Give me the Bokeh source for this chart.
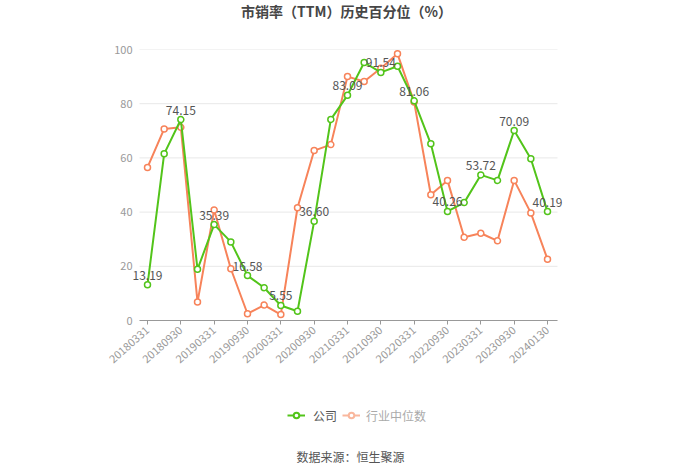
from bokeh.plotting import figure
from bokeh.layouts import column
from bokeh.models import Range1d, Legend, LegendItem, ColumnDataSource, FixedTicker, Label
from bokeh.core.properties import value
from bokeh.embed import file_html
from bokeh.resources import INLINE

dates = ["20180331", "20180630", "20180930", "20181231",
         "20190331", "20190630", "20190930", "20191231",
         "20200331", "20200630", "20200930", "20201231",
         "20210331", "20210630", "20210930", "20211231",
         "20220331", "20220630", "20220930", "20221231",
         "20230331", "20230630", "20230930", "20231231",
         "20240130"]
company = [13.19, 61.5, 74.15, 18.9, 35.39, 29.0, 16.58, 12.1, 5.55, 3.4,
           36.60, 74.2, 83.09, 95.2, 91.54, 93.8, 81.06, 65.2, 40.26, 43.5,
           53.72, 51.7, 70.09, 59.7, 40.19]
industry = [56.5, 70.7, 71.3, 6.8, 40.8, 19.1, 2.5, 5.7, 2.2, 41.6,
            62.7, 64.9, 90.0, 88.2, 93.1, 98.4, 80.6, 46.4, 51.7, 30.7,
            32.2, 29.4, 51.7, 39.7, 22.6]
label_idx = list(range(0, 25, 2))
y_ticks = [0, 20, 40, 60, 80, 100]
title_text = "市销率（TTM）历史百分位（%）"
source_text = "数据来源：恒生聚源"
series_names = ["公司", "行业中位数"]

FONT = "Noto Sans CJK SC"
GREEN = "#52c41a"
ORANGE = "#f7835a"
BL, BR = 132, 138  # side borders shared by all strips


def strip(height, y_end):
    f = figure(width=700, height=height, output_backend="svg", toolbar_location=None,
               x_range=Range1d(BL, 700 - BR), y_range=Range1d(0, y_end),
               min_border_left=BL, min_border_right=BR, min_border_top=0, min_border_bottom=0)
    f.axis.visible = False
    f.grid.visible = False
    f.outline_line_color = None
    f.background_fill_color = "white"
    f.border_fill_color = "white"
    return f


# header with title
head = strip(40, 40)
head.add_layout(Label(x=346, y=29.5, text=title_text, text_align="center", text_baseline="middle",
                      text_font=FONT, text_font_size="14px", text_font_style="bold",
                      text_color="#464646"))

# main chart
x = list(range(len(dates)))
X0, X1 = -0.48, 24.6

fig = figure(width=700, height=340, output_backend="svg", toolbar_location=None,
             x_range=Range1d(-0.9, 24.9), y_range=Range1d(0, 100),
             min_border_left=BL, min_border_right=BR, min_border_top=9,
             min_border_bottom=60)
fig.outline_line_color = None
fig.background_fill_color = "white"
fig.border_fill_color = "white"

fig.yaxis.ticker = FixedTicker(ticks=y_ticks)
fig.yaxis.axis_line_color = None
fig.yaxis.major_tick_line_color = None
fig.yaxis.major_tick_out = 0
fig.yaxis.major_tick_in = 0
fig.yaxis.minor_tick_line_color = None
fig.yaxis.major_label_text_color = "#999999"
fig.yaxis.major_label_text_font = FONT
fig.yaxis.major_label_text_font_size = "11px"
fig.yaxis.major_label_standoff = 0

fig.xaxis.ticker = FixedTicker(ticks=label_idx)
fig.xaxis.bounds = (X0, X1)
fig.xaxis.major_label_overrides = {i: dates[i] for i in label_idx}
fig.xaxis.axis_line_color = "#999999"
fig.xaxis.major_tick_line_color = "#999999"
fig.xaxis.major_tick_in = 0
fig.xaxis.major_tick_out = 4
fig.xaxis.minor_tick_line_color = None
fig.xaxis.major_label_orientation = 0.72
fig.xaxis.major_label_text_color = "#999999"
fig.xaxis.major_label_text_font = FONT
fig.xaxis.major_label_text_font_size = "11px"
fig.xaxis.major_label_standoff = 4

fig.xgrid.grid_line_color = None
fig.ygrid.grid_line_color = None
fig.segment(x0=[X0] * len(y_ticks), x1=[X1] * len(y_ticks), y0=y_ticks, y1=y_ticks,
            line_color="#e8e8e8", line_width=1)

src = ColumnDataSource(dict(x=x, c=company, i=industry))
fig.line("x", "i", source=src, line_color=ORANGE, line_width=2)
fig.scatter("x", "i", source=src, size=6, line_color=ORANGE, fill_color="white", line_width=1.5)
fig.line("x", "c", source=src, line_color=GREEN, line_width=2)
fig.scatter("x", "c", source=src, size=6, line_color=GREEN, fill_color="white", line_width=1.5)

lab_src = ColumnDataSource(dict(x=[x[i] for i in label_idx],
                                y=[company[i] for i in label_idx],
                                t=["%.2f" % company[i] for i in label_idx]))
fig.text("x", "y", text="t", source=lab_src, text_align="center", text_baseline="bottom",
         y_offset=-5, text_color="#555555", text_font=value(FONT), text_font_size="12px")

# footer: legend and source note
foot = strip(93, 93)
off = [-1000]  # keeps legend proxy glyphs out of view
d1l = foot.line(off, off, line_color=GREEN, line_width=2)
d1s = foot.scatter(off, off, size=8, line_color=GREEN, fill_color="white", line_width=2)
d2l = foot.line(off, off, line_color="#f9b79d", line_width=2)
d2s = foot.scatter(off, off, size=8, line_color="#f9b79d", fill_color="white", line_width=2)

leg1 = Legend(items=[LegendItem(label=series_names[0], renderers=[d1l, d1s])],
              location=(287 - BL, 49.5), orientation="horizontal",
              label_text_font=FONT, label_text_font_size="12px", label_text_color="#555555",
              glyph_width=18, glyph_height=14, label_standoff=8, padding=0, margin=0,
              border_line_color=None, background_fill_alpha=0)
leg2 = Legend(items=[LegendItem(label=series_names[1], renderers=[d2l, d2s])],
              location=(342 - BL, 49.5), orientation="horizontal",
              label_text_font=FONT, label_text_font_size="12px", label_text_color="#aaaaaa",
              glyph_width=18, glyph_height=14, label_standoff=6, padding=0, margin=0,
              border_line_color=None, background_fill_alpha=0)
foot.add_layout(leg1)
foot.add_layout(leg2)

foot.add_layout(Label(x=350, y=17.5, text=source_text, text_align="center", text_baseline="middle",
                      text_font=FONT, text_font_size="12px", text_color="#555555"))

p = column(head, fig, foot, spacing=0)
open("out.html", "w").write(file_html(p, INLINE))
